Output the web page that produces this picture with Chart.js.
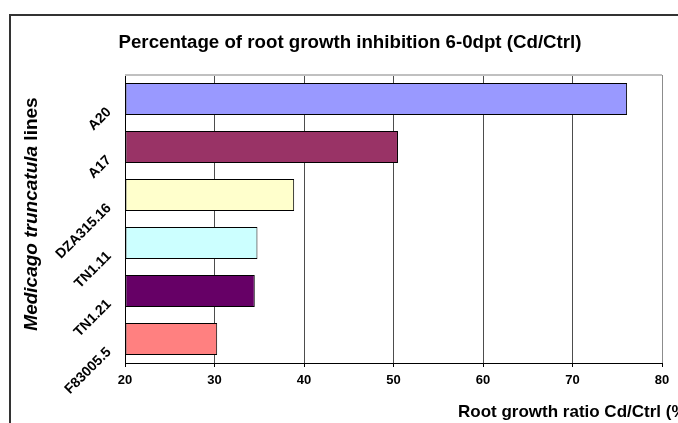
<!DOCTYPE html>
<html>
<head>
<meta charset="utf-8">
<script src="https://cdn.jsdelivr.net/npm/chart.js@4.4.1/dist/chart.umd.min.js"></script>
<style>
  html, body { margin: 0; padding: 0; background: #ffffff; }
  #wrap { width: 678px; height: 423px; }
</style>
</head>
<body>
<div id="wrap"><canvas id="c" width="678" height="423"></canvas></div>
<script>
// Medicago truncatula lines and their root growth ratio (Cd/Ctrl, %)
const lines = ['A20', 'A17', 'DZA315.16', 'TN1.11', 'TN1.21', 'F83005.5'];
const ratios = [76.1, 50.5, 38.9, 34.8, 34.5, 30.3];
const barColors = ['#9999FF', '#993366', '#FFFFCC', '#CCFFFF', '#660066', '#FF8080'];
const xTicks = [20, 30, 40, 50, 60, 70, 80];

const FONT = '"Liberation Sans", Arial, sans-serif';

// Outer frame, title, top plot border, slanted category labels and axis titles
const decorations = {
  id: 'decorations',
  beforeDraw(chart) {
    const ctx = chart.ctx;
    ctx.save();
    ctx.fillStyle = '#ffffff';
    ctx.fillRect(0, 0, chart.width, chart.height);
    ctx.strokeStyle = '#333333';
    ctx.lineWidth = 2;
    ctx.strokeRect(10, 15, 800, 600);
    ctx.restore();
  },
  afterDraw(chart) {
    const ctx = chart.ctx;
    const a = chart.chartArea;
    const y = chart.scales.y;
    ctx.save();

    // chart title
    ctx.fillStyle = '#000000';
    ctx.font = 'bold 18.7px ' + FONT;
    ctx.textAlign = 'center';
    ctx.textBaseline = 'alphabetic';
    ctx.fillText('Percentage of root growth inhibition 6-0dpt (Cd/Ctrl)', 350, 48);

    // top border of the plot area
    ctx.strokeStyle = '#c0c0c0';
    ctx.lineWidth = 2;
    ctx.beginPath();
    ctx.moveTo(a.left, a.top);
    ctx.lineTo(a.right, a.top);
    ctx.stroke();

    // category labels, slanted at 45 degrees
    ctx.font = 'bold 14px ' + FONT;
    ctx.textAlign = 'right';
    ctx.textBaseline = 'middle';
    lines.forEach((name, i) => {
      const py = y.getPixelForValue(i);
      ctx.save();
      ctx.translate(a.left - 16, py + 11);
      ctx.rotate(-Math.PI / 4);
      ctx.fillText(name, 0, 0);
      ctx.restore();
    });

    // y axis title: italic species name followed by "lines"
    ctx.save();
    ctx.translate(37, 214);
    ctx.rotate(-Math.PI / 2);
    ctx.textBaseline = 'alphabetic';
    ctx.textAlign = 'left';
    const part1 = 'Medicago truncatula';
    const part2 = ' lines';
    ctx.font = 'italic bold 19px ' + FONT;
    const w1 = ctx.measureText(part1).width;
    ctx.font = 'bold 19px ' + FONT;
    const w2 = ctx.measureText(part2).width;
    const start = -(w1 + w2) / 2;
    ctx.font = 'italic bold 19px ' + FONT;
    ctx.fillText(part1, start, 0);
    ctx.font = 'bold 19px ' + FONT;
    ctx.fillText(part2, start + w1, 0);
    ctx.restore();

    // x axis title
    ctx.font = 'bold 17px ' + FONT;
    ctx.textAlign = 'left';
    ctx.textBaseline = 'alphabetic';
    ctx.fillText('Root growth ratio Cd/Ctrl (%)', 458, 417);
    ctx.restore();
  }
};

new Chart(document.getElementById('c'), {
  type: 'bar',
  data: {
    labels: lines,
    datasets: [{
      data: ratios,
      base: 20,
      backgroundColor: barColors,
      borderColor: '#000000',
      borderWidth: 1,
      borderSkipped: false,
      categoryPercentage: 1.0,
      barPercentage: 0.667
    }]
  },
  options: {
    indexAxis: 'y',
    responsive: false,
    animation: false,
    devicePixelRatio: 1,
    layout: { padding: { left: 0, right: 16, top: 75, bottom: 0 } },
    plugins: {
      legend: { display: false },
      tooltip: { enabled: false },
      title: { display: false }
    },
    scales: {
      x: {
        type: 'linear',
        min: xTicks[0],
        max: xTicks[xTicks.length - 1],
        afterBuildTicks(scale) { scale.ticks = xTicks.map(v => ({ value: v })); },
        afterFit(scale) { scale.height = 60; },
        ticks: {
          color: '#000000',
          font: { family: FONT, size: 13, weight: 'bold' },
          padding: 6,
          maxRotation: 0
        },
        grid: {
          color: ctx => (ctx.tick && ctx.tick.value === 80 ? '#8c8c8c' : '#4d4d4d'),
          lineWidth: 1,
          drawTicks: true,
          tickLength: 4,
          tickColor: '#000000'
        },
        border: { display: true, color: '#000000', width: 1 }
      },
      y: {
        type: 'category',
        afterFit(scale) { scale.width = 125; },
        ticks: { display: false },
        grid: { display: false, drawTicks: false },
        border: { display: true, color: '#000000', width: 1 }
      }
    }
  },
  plugins: [decorations]
});
</script>
</body>
</html>
